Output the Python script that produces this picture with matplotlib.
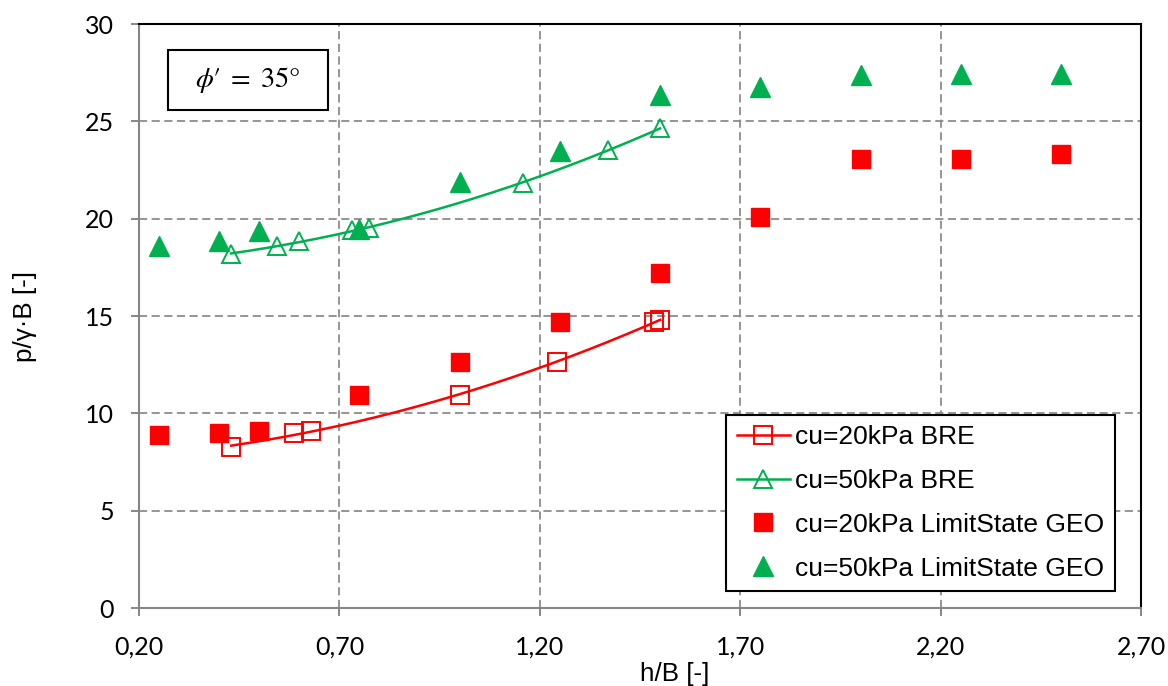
import numpy as np
import matplotlib
matplotlib.use("Agg")
import matplotlib.pyplot as plt
from matplotlib.patches import Rectangle
from matplotlib.legend_handler import HandlerTuple

# ---------------- data ----------------
x_bre_20 = [0.43, 0.586, 0.63, 1.00, 1.243, 1.486, 1.50]
y_bre_20 = [8.27, 8.97, 9.09, 10.94, 12.64, 14.71, 14.79]

x_bre_50 = [0.43, 0.545, 0.60, 0.731, 0.774, 1.158, 1.371, 1.50]
y_bre_50 = [18.18, 18.58, 18.84, 19.43, 19.52, 21.83, 23.51, 24.66]

x_ls = [0.25, 0.40, 0.50, 0.75, 1.00, 1.25, 1.50, 1.75, 2.00, 2.25, 2.50]
y_ls_20 = [8.89, 9.01, 9.11, 10.94, 12.65, 14.67, 17.19, 20.07, 23.06, 23.06, 23.30]
y_ls_50 = [18.58, 18.84, 19.35, 19.49, 21.87, 23.46, 26.34, 26.75, 27.38, 27.43, 27.43]

labels = ["cu=20kPa BRE", "cu=50kPa BRE",
          "cu=20kPa LimitState GEO", "cu=50kPa LimitState GEO"]

x_ticks = [0.20, 0.70, 1.20, 1.70, 2.20, 2.70]
x_tick_labels = ["0,20", "0,70", "1,20", "1,70", "2,20", "2,70"]
y_ticks = [0, 5, 10, 15, 20, 25, 30]
y_tick_labels = ["0", "5", "10", "15", "20", "25", "30"]

annotation = r"$\phi\prime\;=\;35\degree$"

RED = "#FF0000"
GREEN = "#00B050"
GRID = "#8C8C8C"
AXIS = "#868686"

plt.rcParams["mathtext.fontset"] = "stix"

fig = plt.figure(figsize=(11.68, 6.86), dpi=100)
ax = fig.add_axes([0.119, 0.1137, 0.858, 0.8513])

# trendlines (quadratic fit) for BRE data
def trend(xs, ys):
    c = np.polyfit(xs, ys, 2)
    xx = np.linspace(min(xs), max(xs), 200)
    return xx, np.polyval(c, xx)

xx, yy = trend(x_bre_20, y_bre_20)
l20, = ax.plot(xx, yy, color=RED, lw=1.8, zorder=3)
m20, = ax.plot(x_bre_20, y_bre_20, ls="none", marker="s", ms=12.5,
               mfc="none", mec=RED, mew=1.4, zorder=4)
xx, yy = trend(x_bre_50, y_bre_50)
l50, = ax.plot(xx, yy, color=GREEN, lw=1.8, zorder=3)
m50, = ax.plot(x_bre_50, y_bre_50, ls="none", marker="^", ms=13,
               mfc="none", mec=GREEN, mew=1.4, zorder=4)

s20, = ax.plot(x_ls, y_ls_20, ls="none", marker="s", ms=13.5,
               mfc=RED, mec=RED, mew=1, zorder=5)
s50, = ax.plot(x_ls, y_ls_50, ls="none", marker="^", ms=14,
               mfc=GREEN, mec=GREEN, mew=1, zorder=5)

ax.set_xlim(0.2, 2.7)
ax.set_ylim(0, 30)
ax.set_xticks(x_ticks)
ax.set_xticklabels(x_tick_labels)
ax.set_yticks(y_ticks)
ax.set_yticklabels(y_tick_labels)

ax.grid(True, color=GRID, lw=1.3, ls=(0, (4.5, 2.5)), zorder=0)
ax.set_axisbelow(True)

for s in ("left", "bottom"):
    ax.spines[s].set_color(AXIS)
    ax.spines[s].set_linewidth(1.5)
for s in ("top", "right"):
    ax.spines[s].set_color("black")
    ax.spines[s].set_linewidth(1.5)

ax.tick_params(axis="both", direction="out", length=6, width=1.4,
               color=AXIS, labelsize=18)
ax.tick_params(axis="y", pad=12)
ax.tick_params(axis="x", pad=14)
for t in ax.get_xticklabels() + ax.get_yticklabels():
    t.set_fontfamily("Lato")

ax.set_xlabel("h/B [-]", fontsize=18.7, fontfamily="Liberation Sans")
ax.set_ylabel("p/γ·B [-]", fontsize=18.7, fontfamily="Liberation Sans")
ax.xaxis.set_label_coords(0.535, -0.092)
ax.yaxis.set_label_coords(-0.102, 0.50)

# annotation box
ax.add_patch(Rectangle((0.0289, 0.8527), 0.1597, 0.1027, transform=ax.transAxes,
                       fill=True, facecolor="white", edgecolor="black", lw=1.5, zorder=6))
ax.text(0.1088, 0.904, annotation, transform=ax.transAxes, ha="center",
        va="center", fontsize=20.5, zorder=7)

leg = ax.legend([(l20, m20), (l50, m50), s20, s50], labels,
                handler_map={tuple: HandlerTuple(ndivide=1)},
                loc="lower left", bbox_to_anchor=(0.586, 0.029), borderaxespad=0,
                prop={"family": "Liberation Sans", "size": 19},
                handlelength=2.0, handletextpad=0.2, labelspacing=0.75,
                borderpad=0.4, fancybox=False, framealpha=1, edgecolor="black")
leg.get_frame().set_linewidth(1.5)
leg.set_zorder(8)

fig.savefig("out.png", dpi=100)
